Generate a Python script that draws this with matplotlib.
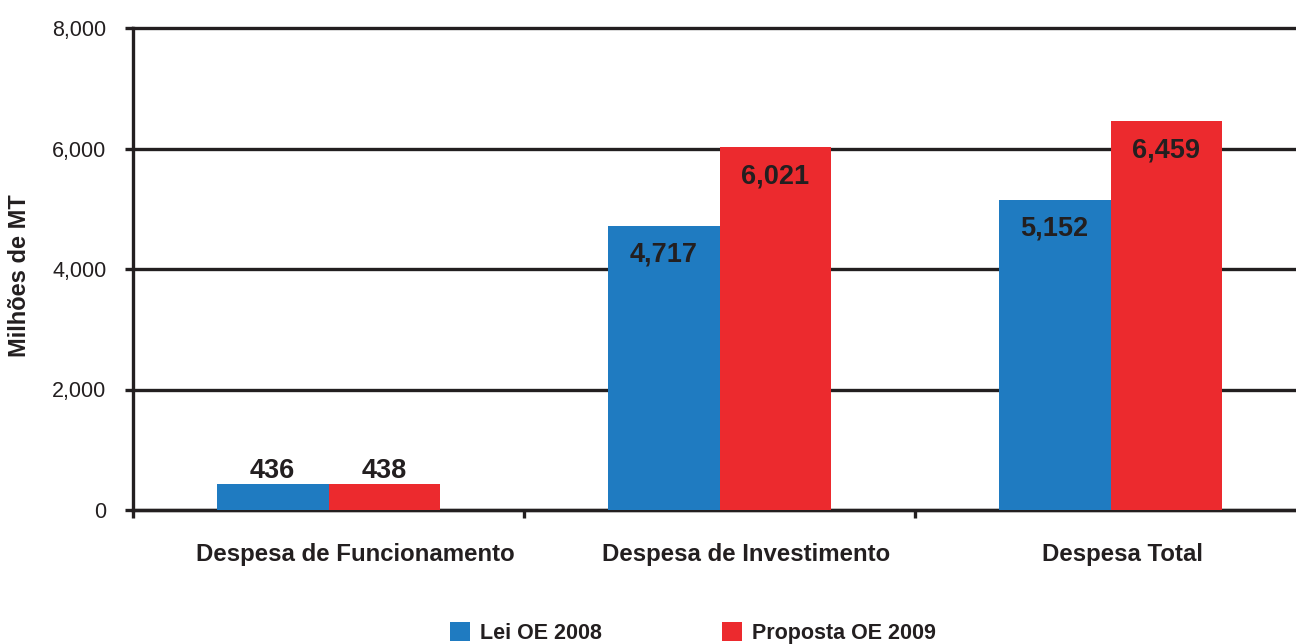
import matplotlib
matplotlib.use("Agg")
import matplotlib.pyplot as plt
from matplotlib.patches import Patch
import numpy as np

plt.rcParams['font.family'] = ['Liberation Sans', 'DejaVu Sans']

categories = ["Despesa de Funcionamento", "Despesa de Investimento", "Despesa Total"]
lei_2008 = [436, 4717, 5152]
proposta_2009 = [438, 6021, 6459]
series_names = ["Lei OE 2008", "Proposta OE 2009"]
y_ticks = [0, 2000, 4000, 6000, 8000]

blue = "#1f7bc1"
red = "#ec2a2e"
dark = "#231f20"

fig = plt.figure(figsize=(12.96, 6.44), dpi=100)
ax = fig.add_axes([133/1296, 134/644, 1173/1296, 482/644])

x = np.arange(len(categories))
w = 0.286
b1 = ax.bar(x - w/2, lei_2008, w, color=blue, zorder=3)
b2 = ax.bar(x + w/2, proposta_2009, w, color=red, zorder=3)

for bars, vals in ((b1, lei_2008), (b2, proposta_2009)):
    for r, v in zip(bars, vals):
        cx = r.get_x() + r.get_width()/2
        if v > 1000:
            ax.annotate(f"{v:,}", (cx, v), xytext=(0, -21), textcoords="offset points",
                        ha="center", va="center", fontsize=19.5, fontweight="bold", color=dark, zorder=5)
        else:
            ax.annotate(f"{v:,}", (cx, v), xytext=(0, 9), textcoords="offset points",
                        ha="center", va="center", fontsize=19.5, fontweight="bold", color=dark, zorder=5)

ax.set_xlim(-0.5, 2.5)
ax.set_ylim(0, 8000)
ax.set_yticks(y_ticks)
ax.set_yticklabels([f"{t:,}" for t in y_ticks], fontsize=15.5, color=dark)
for t in y_ticks:
    ax.axhline(t, color=dark, lw=2.4, zorder=1, clip_on=False)

ax.set_xticks([-0.5, 0.5, 1.5])
ax.set_xticklabels([])
ax.tick_params(axis='x', direction='out', length=6, width=2.4, color=dark)
ax.tick_params(axis='y', direction='out', length=6, width=2.4, color=dark, pad=13)
label_shift_pt = [19.4, 19.4, 8.6]
for i, c in enumerate(categories):
    ax.annotate(c, (i, -745), xycoords="data", xytext=(label_shift_pt[i], 0),
                textcoords="offset points", ha="center", va="center",
                fontsize=17.3, fontweight="bold", color=dark, annotation_clip=False)

for s in ['top', 'right']:
    ax.spines[s].set_visible(False)
ax.spines['left'].set_linewidth(2.4)
ax.spines['left'].set_color(dark)
ax.spines['bottom'].set_linewidth(2.4)
ax.spines['bottom'].set_color(dark)
ax.spines['left'].set_zorder(4)

ax.set_ylabel("Milhões de MT", fontsize=17, fontweight="bold", color=dark)
ax.yaxis.set_label_coords(-0.087, 0.4855)

handles = [Patch(facecolor=blue), Patch(facecolor=red)]
leg = fig.legend(handles, series_names, loc="center", bbox_to_anchor=(0.5347, 0.017), ncol=2,
                 frameon=False, prop={'size': 15.5, 'weight': 'bold'},
                 handlelength=0.93, handleheight=0.93, handletextpad=0.47, columnspacing=5.6)
for t in leg.get_texts():
    t.set_color(dark)

fig.savefig("out.png", dpi=100)
